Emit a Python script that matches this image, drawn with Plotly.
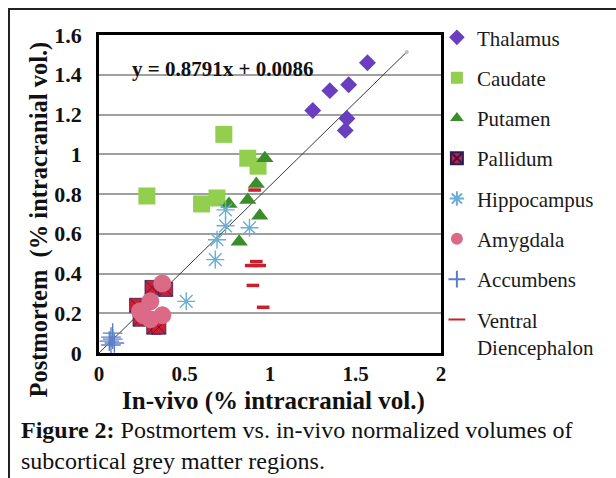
import plotly.graph_objects as go

# ---- data ----
thalamus_x = [1.57, 1.46, 1.35, 1.25, 1.45, 1.44]
thalamus_y = [1.46, 1.35, 1.32, 1.22, 1.18, 1.12]

caudate_x = [0.73, 0.87, 0.93, 0.28, 0.60, 0.69]
caudate_y = [1.10, 0.98, 0.94, 0.79, 0.75, 0.78]

putamen_x = [0.97, 0.92, 0.87, 0.76, 0.94, 0.82]
putamen_y = [0.98, 0.85, 0.77, 0.75, 0.69, 0.56]

pallidum_x = [0.31, 0.39, 0.22, 0.24, 0.32, 0.35]
pallidum_y = [0.33, 0.32, 0.24, 0.17, 0.13, 0.13]

hippocampus_x = [0.74, 0.74, 0.88, 0.69, 0.68, 0.51]
hippocampus_y = [0.72, 0.64, 0.63, 0.57, 0.47, 0.26]

amygdala_x = [0.37, 0.30, 0.24, 0.37, 0.26, 0.30]
amygdala_y = [0.35, 0.26, 0.21, 0.19, 0.19, 0.17]

accumbens_x = [0.08, 0.07, 0.06, 0.09, 0.07, 0.08]
accumbens_y = [0.10, 0.08, 0.06, 0.05, 0.04, 0.07]

ventral_x = [0.91, 0.92, 0.89, 0.94, 0.90, 0.96]
ventral_y = [0.82, 0.46, 0.44, 0.44, 0.34, 0.23]

trend_x = [0.0, 1.8]
trend_y = [0.0, 1.515]
trend_label = "y = 0.8791x + 0.0086"

x_ticks = [0, 0.5, 1, 1.5, 2]
y_ticks = [0, 0.2, 0.4, 0.6, 0.8, 1.0, 1.2, 1.4, 1.6]

SERIF = "Liberation Serif, Times New Roman, serif"

fig = go.Figure()

# trend line
fig.add_trace(go.Scatter(x=trend_x, y=trend_y, mode="lines", line=dict(color="#3a3a3a", width=1),
                         showlegend=False, hoverinfo="skip"))
fig.add_trace(go.Scatter(x=trend_x[1:], y=trend_y[1:], mode="markers",
                         marker=dict(symbol="circle", size=4, color="#b8bdd8"),
                         showlegend=False, hoverinfo="skip"))

series = [
    ("Thalamus", thalamus_x, thalamus_y, dict(symbol="diamond", size=13, color="#6a3fbf")),
    ("Caudate", caudate_x, caudate_y, dict(symbol="square", size=17, color="#92cf4f")),
    ("Putamen", putamen_x, putamen_y, dict(symbol="triangle-up", size=15, color="#3a8e2a")),
    ("Pallidum", pallidum_x, pallidum_y, dict(symbol="square-x", size=14, color="#cf1f30",
                                               line=dict(color="#2a1f5a", width=0.8))),
    ("Hippocampus", hippocampus_x, hippocampus_y, dict(symbol="asterisk-open", size=15,
                                                        color="#6aaed4",
                                                        line=dict(color="#6aaed4", width=1.4))),
    ("Amygdala", amygdala_x, amygdala_y, dict(symbol="circle", size=18, color="#da6a86")),
    ("Accumbens", accumbens_x, accumbens_y, dict(symbol="cross-thin-open", size=14,
                                                  color="#5b7fc7",
                                                  line=dict(color="#5b7fc7", width=1.4))),
    ("Ventral<br>Diencephalon", ventral_x, ventral_y, dict(symbol="line-ew-open", size=9,
                                                            color="#c8202f",
                                                            line=dict(color="#c8202f", width=3.5))),
]

for i, (name, xs, ys, mk) in enumerate(series):
    fig.add_trace(go.Scatter(x=xs, y=ys, mode="markers", name=name, marker=mk,
                             legendgroup=f"g{i}"))

fig.update_layout(
    width=616, height=478,
    margin=dict(l=99, r=175, t=35, b=125),
    paper_bgcolor="white", plot_bgcolor="white",
    font=dict(family=SERIF, color="#111"),
    showlegend=True,
    legend=dict(x=0.988, xanchor="left", y=1.056, yanchor="top",
                font=dict(family=SERIF, size=21, color="#1a1a1a"),
                itemsizing="constant", itemwidth=30, tracegroupgap=10,
                traceorder="grouped", valign="top", bgcolor="rgba(0,0,0,0)",
                maxheight=460),
    xaxis=dict(range=[0, 2], tickvals=x_ticks, showgrid=False, zeroline=False,
               showline=True, mirror=True, linecolor="black", linewidth=2.5,
               ticks="", ticklen=0, tickfont=dict(family=SERIF, size=21, color="#111", weight="bold"),
               ticklabelstandoff=0),
    yaxis=dict(range=[0, 1.6], tickvals=y_ticks, showgrid=True, gridcolor="#a0a0a0",
               gridwidth=1.5, zeroline=False, showline=True, mirror=True,
               linecolor="black", linewidth=2.5, ticks="", ticklen=0,
               tickfont=dict(family=SERIF, size=22, color="#111", weight="bold"),
               ticklabelstandoff=10),
)

# equation label
fig.add_annotation(x=0.72, y=1.43, xref="x", yref="y", text="<b>" + trend_label + "</b>",
                   showarrow=False, font=dict(family=SERIF, size=21, color="#111"))

# axis titles
fig.add_annotation(x=-0.175, y=0.42, xref="paper", yref="paper", textangle=-90,
                   xanchor="center", yanchor="middle",
                   text="<b>Postmortem\u00a0\u00a0(% intracranial vol.)</b>", showarrow=False,
                   font=dict(family=SERIF, size=24.5, color="#111"))
fig.add_annotation(x=0.509, y=-0.15, xref="paper", yref="paper",
                   xanchor="center", yanchor="middle",
                   text="<b>In-vivo (% intracranial vol.)</b>", showarrow=False,
                   font=dict(family=SERIF, size=25, color="#111"))

# caption
fig.add_annotation(x=-0.234, y=-0.29, xref="paper", yref="paper", xanchor="left", yanchor="middle",
                   align="left",
                   text="<b>Figure 2:</b> Postmortem vs. in-vivo normalized volumes of<br>subcortical grey matter regions.",
                   showarrow=False, font=dict(family=SERIF, size=24, color="#111"))

# outer frame (left and top edges; the rest runs off the page)
fig.add_annotation(x=-0.266, y=1.085, xref="paper", yref="paper", xanchor="left", yanchor="top",
                   text="", showarrow=False, width=700, height=600,
                   bordercolor="#222", borderwidth=2, borderpad=0)

fig.write_html("out.html", config={"displayModeBar": False},
               post_script="document.body.style.margin='0px';document.body.style.overflow='hidden';")
